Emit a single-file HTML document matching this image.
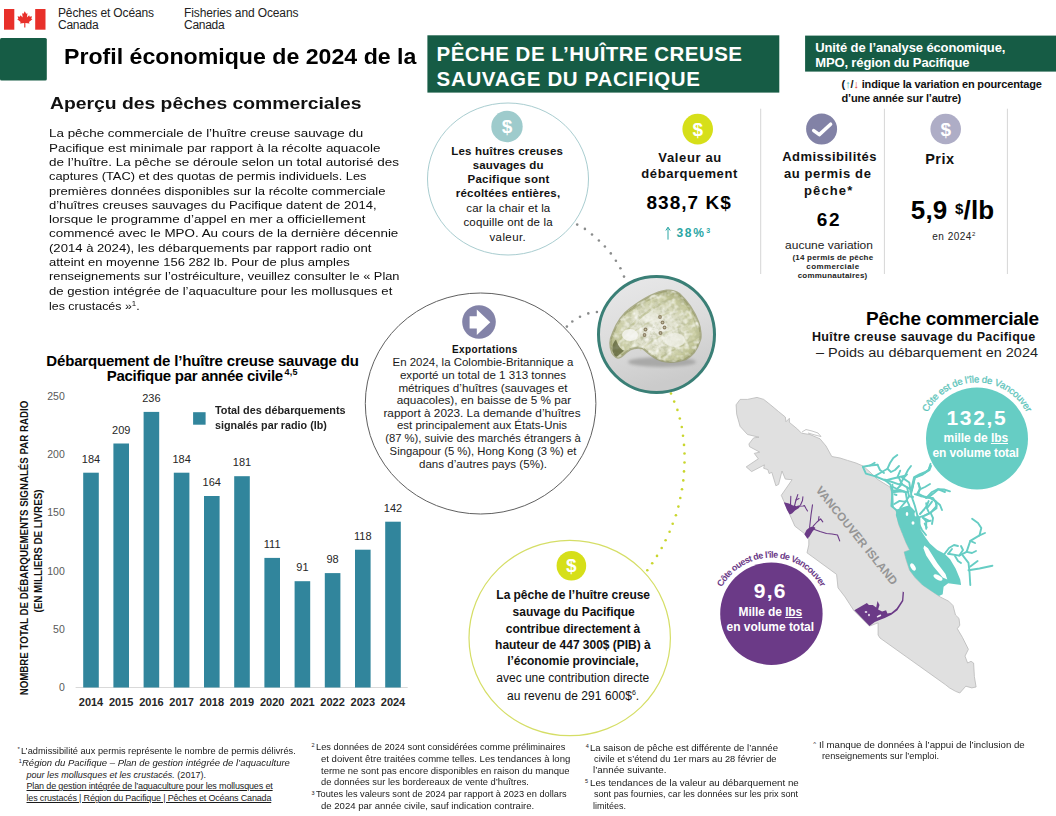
<!DOCTYPE html>
<html><head><meta charset="utf-8"><style>
html,body{margin:0;padding:0;background:#fff;}
body{width:1056px;height:816px;position:relative;overflow:hidden;font-family:"Liberation Sans",sans-serif;}
.t{position:absolute;white-space:nowrap;line-height:1;}
.a{position:absolute;}
</style></head><body>
<svg class="a" style="left:0;top:0" width="1056" height="816" viewBox="0 0 1056 816"><rect x="4" y="9" width="10.3" height="20.7" fill="#e8302a"/>
<rect x="35.2" y="9" width="10.3" height="20.7" fill="#e8302a"/>
<g transform="translate(15.3,10.4) scale(0.19)"><path d="M50,5 L57,18 L64,15 L61,38 L73,26 L76,33 L88,31 L84,44 L90,47 L72,61 L75,69 L53,66 L53,90 L47,90 L47,66 L25,69 L28,61 L10,47 L16,44 L12,31 L24,33 L27,26 L39,38 L36,15 L43,18 Z" fill="#e8302a"/></g>
<rect x="0" y="38" width="46.8" height="42.5" rx="1.5" fill="#165c45"/>
<rect x="427.4" y="35.3" width="351.9" height="57.3" fill="#165c45"/>
<rect x="805.1" y="35.6" width="251" height="36" fill="#165c45"/>
<line x1="75.6" y1="687.5" x2="407.7" y2="687.5" stroke="#d9d9d9" stroke-width="1"/>
<rect x="83.2" y="472.7" width="15.6" height="214.8" fill="#31859c"/>
<rect x="113.4" y="443.5" width="15.6" height="244.0" fill="#31859c"/>
<rect x="143.6" y="411.9" width="15.6" height="275.6" fill="#31859c"/>
<rect x="173.8" y="472.7" width="15.6" height="214.8" fill="#31859c"/>
<rect x="204.0" y="496.0" width="15.6" height="191.5" fill="#31859c"/>
<rect x="234.2" y="476.2" width="15.6" height="211.3" fill="#31859c"/>
<rect x="264.4" y="557.9" width="15.6" height="129.6" fill="#31859c"/>
<rect x="294.6" y="581.2" width="15.6" height="106.3" fill="#31859c"/>
<rect x="324.8" y="573.1" width="15.6" height="114.4" fill="#31859c"/>
<rect x="355.0" y="549.7" width="15.6" height="137.8" fill="#31859c"/>
<rect x="385.2" y="521.7" width="15.6" height="165.8" fill="#31859c"/>
<rect x="193.1" y="412.2" width="12.5" height="12.5" fill="#31859c"/>
<line x1="760.7" y1="108.7" x2="760.7" y2="274" stroke="#d6d6d6" stroke-width="1"/>
<line x1="884.4" y1="108.7" x2="884.4" y2="274" stroke="#d6d6d6" stroke-width="1"/>
<line x1="1007.4" y1="108.7" x2="1007.4" y2="274" stroke="#d6d6d6" stroke-width="1"/>
<ellipse cx="508" cy="179" rx="80.5" ry="76" fill="none" stroke="#a9cdd0" stroke-width="1"/>
<ellipse cx="480.6" cy="403.5" rx="115.3" ry="110.5" fill="none" stroke="#606060" stroke-width="1"/>
<ellipse cx="569.7" cy="638" rx="100.7" ry="97.7" fill="none" stroke="#d5de66" stroke-width="1.2"/>
<circle cx="577.2" cy="224.6" r="1.3" fill="#8a8c8c"/>
<circle cx="584.9" cy="228.9" r="1.3" fill="#8a8c8c"/>
<circle cx="592" cy="234.5" r="1.3" fill="#8a8c8c"/>
<circle cx="598.9" cy="240.5" r="1.3" fill="#8a8c8c"/>
<circle cx="604.9" cy="246.5" r="1.3" fill="#8a8c8c"/>
<circle cx="610.8" cy="253.4" r="1.3" fill="#8a8c8c"/>
<circle cx="615.9" cy="260.8" r="1.3" fill="#8a8c8c"/>
<circle cx="620.4" cy="268.3" r="1.3" fill="#8a8c8c"/>
<circle cx="624" cy="276.6" r="1.3" fill="#8a8c8c"/>
<circle cx="566.9" cy="326.6" r="1.3" fill="#8a8c8c"/>
<circle cx="572.3" cy="321.5" r="1.3" fill="#8a8c8c"/>
<circle cx="580" cy="316.7" r="1.3" fill="#8a8c8c"/>
<circle cx="588.3" cy="313.4" r="1.3" fill="#8a8c8c"/>
<circle cx="596.9" cy="312" r="1.3" fill="#8a8c8c"/>
<circle cx="671" cy="393.5" r="1.3" fill="#c9d62e"/>
<circle cx="674.2" cy="401.6" r="1.3" fill="#c9d62e"/>
<circle cx="677.4" cy="409.9" r="1.3" fill="#c9d62e"/>
<circle cx="679.8" cy="418.5" r="1.3" fill="#c9d62e"/>
<circle cx="681.8" cy="427" r="1.3" fill="#c9d62e"/>
<circle cx="683" cy="435.8" r="1.3" fill="#c9d62e"/>
<circle cx="684" cy="444.9" r="1.3" fill="#c9d62e"/>
<circle cx="684.5" cy="453.5" r="1.3" fill="#c9d62e"/>
<circle cx="684.5" cy="462.5" r="1.3" fill="#c9d62e"/>
<circle cx="684" cy="471.4" r="1.3" fill="#c9d62e"/>
<circle cx="683.3" cy="480.4" r="1.3" fill="#c9d62e"/>
<circle cx="682" cy="489.2" r="1.3" fill="#c9d62e"/>
<circle cx="680.3" cy="498" r="1.3" fill="#c9d62e"/>
<circle cx="678.4" cy="506.6" r="1.3" fill="#c9d62e"/>
<circle cx="675.9" cy="515.2" r="1.3" fill="#c9d62e"/>
<circle cx="672.7" cy="523.8" r="1.3" fill="#c9d62e"/>
<circle cx="669.6" cy="531.8" r="1.3" fill="#c9d62e"/>
<circle cx="665.6" cy="540.2" r="1.3" fill="#c9d62e"/>
<circle cx="661.7" cy="548" r="1.3" fill="#c9d62e"/>
<circle cx="657" cy="555.9" r="1.3" fill="#c9d62e"/>
<circle cx="652.2" cy="563.2" r="1.3" fill="#c9d62e"/>
<circle cx="647.3" cy="570.3" r="1.3" fill="#c9d62e"/>
<path d="M668,239.6 L668,227.5 M665.8,230.5 L668,227.2 L670.2,230.5" fill="none" stroke="#2aa6a4" stroke-width="1"/>
<circle cx="507" cy="126.5" r="15.7" fill="#9ecbcc"/>
<text x="507" y="133.1" text-anchor="middle" font-family="Liberation Sans" font-weight="bold" font-size="19" fill="#fff">$</text>
<circle cx="697.7" cy="129.1" r="15.3" fill="#d6df19"/>
<text x="697.7" y="135.7" text-anchor="middle" font-family="Liberation Sans" font-weight="bold" font-size="19" fill="#fff">$</text>
<circle cx="945.7" cy="129" r="15.3" fill="#aeadc6"/>
<text x="945.7" y="135.6" text-anchor="middle" font-family="Liberation Sans" font-weight="bold" font-size="19" fill="#fff">$</text>
<circle cx="571.4" cy="565.8" r="14.8" fill="#d6df19"/>
<text x="571.4" y="572.4" text-anchor="middle" font-family="Liberation Sans" font-weight="bold" font-size="19" fill="#fff">$</text>
<circle cx="821.6" cy="129" r="15.5" fill="#8282a6"/>
<path d="M813.7,130.6 L819.3,134.6 L830.6,124.2" fill="none" stroke="#fff" stroke-width="3.5" stroke-linecap="round" stroke-linejoin="round"/>
<circle cx="479" cy="322" r="16.8" fill="#8383a8"/>
<path d="M469.6,316.2 L476.8,316.2 L476.8,309.6 L490.3,322.3 L476.8,335.0 L476.8,328.6 L469.6,328.6 Z" fill="#fff"/>
<defs>
<linearGradient id="og" x1="0" y1="0" x2="0.3" y2="1"><stop offset="0" stop-color="#e9e9ea"/><stop offset="0.55" stop-color="#dcdcdc"/><stop offset="1" stop-color="#cbcbcb"/></linearGradient>
<radialGradient id="sh" cx="0.5" cy="0.55" r="0.62"><stop offset="0" stop-color="#ecece2"/><stop offset="0.4" stop-color="#dfe0cb"/><stop offset="0.72" stop-color="#c8cb9f"/><stop offset="0.9" stop-color="#a6aa78"/><stop offset="1" stop-color="#8a8e60"/></radialGradient>
<filter id="bl" x="-0.2" y="-0.2" width="1.4" height="1.4"><feGaussianBlur stdDeviation="0.7"/></filter>
<filter id="bl2" x="-0.2" y="-0.2" width="1.4" height="1.4"><feGaussianBlur stdDeviation="1.6"/></filter>
<clipPath id="oc"><circle cx="656.5" cy="334.5" r="58"/></clipPath>
<clipPath id="shc"><path d="M612.3,352.8 C609.5,346 610,339 613,333 C617,323 623,314 630,309 C642,300 655,292 666.4,290.7 C672,290 676,291.5 679.2,293.9 C688,302 694,311 698.3,322.5 C701,330 701,338 699.9,340 C697,350 692,356 685.5,359.2 C677,362 669,362.5 661.7,360.8 C653,358 647,352 642.5,348 C637,347 633,348 629.8,349.6 C626,352 623,355 621.8,356 C619,358 616,359 612.3,352.8 Z"/></clipPath>
<filter id="tex" x="0" y="0" width="1" height="1"><feTurbulence type="fractalNoise" baseFrequency="0.22" numOctaves="3" seed="7"/><feColorMatrix type="matrix" values="0 0 0 0 0.48  0 0 0 0 0.5  0 0 0 0 0.32  2.2 0 0 0 -0.95"/></filter>
<filter id="tex2" x="0" y="0" width="1" height="1"><feTurbulence type="fractalNoise" baseFrequency="0.18" numOctaves="2" seed="11"/><feColorMatrix type="matrix" values="0 0 0 0 1  0 0 0 0 1  0 0 0 0 0.98  2.4 0 0 0 -1.05"/></filter>
</defs>
<circle cx="656.5" cy="334.5" r="58" fill="url(#og)"/>
<g clip-path="url(#oc)">
<ellipse cx="662" cy="362" rx="34" ry="5" fill="#a9a9a8" filter="url(#bl2)"/>
<path d="M612.3,352.8 C609.5,346 610,339 613,333 C617,323 623,314 630,309 C642,300 655,292 666.4,290.7 C672,290 676,291.5 679.2,293.9 C688,302 694,311 698.3,322.5 C701,330 701,338 699.9,340 C697,350 692,356 685.5,359.2 C677,362 669,362.5 661.7,360.8 C653,358 647,352 642.5,348 C637,347 633,348 629.8,349.6 C626,352 623,355 621.8,356 C619,358 616,359 612.3,352.8 Z" fill="url(#sh)" filter="url(#bl)"/>
<path d="M620,340 C632,322 650,308 672,298" fill="none" stroke="#b7bb8a" stroke-width="2.2" opacity="0.7" filter="url(#bl)"/>
<path d="M618,347 C630,333 648,320 676,310" fill="none" stroke="#c2c596" stroke-width="1.6" opacity="0.6" filter="url(#bl)"/>
<path d="M640,350 C655,338 672,328 692,322" fill="none" stroke="#c9cc9e" stroke-width="1.8" opacity="0.55" filter="url(#bl)"/>
<path d="M660,358 C672,350 684,344 696,340" fill="none" stroke="#b0b482" stroke-width="1.6" opacity="0.6" filter="url(#bl)"/>
<path d="M628,312 C640,303 655,296 668,293" fill="none" stroke="#9da16c" stroke-width="1.8" opacity="0.7" filter="url(#bl)"/>
<path d="M680,296 C688,305 694,316 697,328" fill="none" stroke="#a4a874" stroke-width="1.8" opacity="0.6" filter="url(#bl)"/>
<rect x="605" y="285" width="100" height="80" filter="url(#tex)" clip-path="url(#shc)" opacity="0.9"/>
<path d="M612.3,352.8 C609.5,346 610,339 613,333 C617,323 623,314 630,309 C642,300 655,292 666.4,290.7 C672,290 676,291.5 679.2,293.9 C688,302 694,311 698.3,322.5 C701,330 701,338 699.9,340 C697,350 692,356 685.5,359.2 C677,362 669,362.5 661.7,360.8 C653,358 647,352 642.5,348 C637,347 633,348 629.8,349.6 C626,352 623,355 621.8,356 C619,358 616,359 612.3,352.8 Z" fill="none" stroke="#979a6c" stroke-width="2.2" opacity="0.75" filter="url(#bl)"/>
<rect x="605" y="285" width="100" height="80" filter="url(#tex2)" clip-path="url(#shc)" opacity="0.75"/>
<ellipse cx="630" cy="335" rx="8" ry="6" fill="#f6f6f2" opacity="0.85" filter="url(#bl)"/>
<ellipse cx="675" cy="340" rx="10" ry="7" fill="#f3f3ec" opacity="0.7" filter="url(#bl)"/>
<ellipse cx="652" cy="318" rx="9" ry="5" fill="#f0f0e6" opacity="0.6" filter="url(#bl)"/>
<circle cx="660" cy="317" r="1.9" fill="#7d6f50" opacity="0.85"/>
<circle cx="660" cy="317" r="0.8" fill="#c8c2a8"/>
<circle cx="662.5" cy="322.5" r="1.9" fill="#7d6f50" opacity="0.85"/>
<circle cx="662.5" cy="322.5" r="0.8" fill="#c8c2a8"/>
<circle cx="664.5" cy="327.5" r="1.9" fill="#7d6f50" opacity="0.85"/>
<circle cx="664.5" cy="327.5" r="0.8" fill="#c8c2a8"/>
<circle cx="660.5" cy="333" r="1.9" fill="#7d6f50" opacity="0.85"/>
<circle cx="660.5" cy="333" r="0.8" fill="#c8c2a8"/>
<circle cx="645.5" cy="329.5" r="1.9" fill="#7d6f50" opacity="0.85"/>
<circle cx="645.5" cy="329.5" r="0.8" fill="#c8c2a8"/>
<circle cx="644.5" cy="335" r="1.9" fill="#7d6f50" opacity="0.85"/>
<circle cx="644.5" cy="335" r="0.8" fill="#c8c2a8"/>
<path d="M611.5,350 C611,344 613,340 616,337 C618,343 621,349 626,351 C622,354 619,357 616.5,358.5 C614,357 612,354 611.5,350 Z" fill="#5d6238" opacity="0.75" filter="url(#bl)" transform="translate(616 350) scale(0.8) translate(-616 -350)"/>
</g>
<circle cx="656.5" cy="334.5" r="58" fill="none" stroke="#3a7f76" stroke-width="3"/>
</svg>
<svg class="a" style="left:0;top:0" width="1056" height="816" viewBox="0 0 1056 816"><polygon points="736.1,404.8 740.1,399.4 747.5,399.4 757.0,397.4 763.7,399.4 770.5,404.8 778.6,411.6 785.3,417.0 786.0,421.7 789.4,418.3 789.4,422.4 797.5,429.1 801.5,433.2 810.0,434.5 820.0,438.8 826.0,446.0 831.8,456.5 840.0,458.0 847.5,460.4 856.0,463.0 863.0,466.0 870.0,472.0 877.0,479.0 885.0,484.0 890.0,487.0 892.5,495.0 891.5,505.0 896.0,510.0 898.6,524.3 902.3,533.5 906.0,542.7 909.6,550.1 904.1,551.9 906.0,559.3 909.6,570.3 915.1,577.6 922.5,585.0 933.5,592.4 940.1,596.9 948.7,601.2 953.0,605.5 955.5,615.0 959.0,618.4 959.8,625.2 957.3,628.7 962.4,637.3 968.4,649.3 965.0,656.1 967.6,663.0 971.0,661.3 973.6,663.0 974.4,676.7 976.1,687.0 971.8,687.9 965.8,686.2 959.8,693.0 955.5,691.3 949.5,687.9 945.2,684.5 880.0,638.0 878.1,635.0 878.1,622.8 869.5,626.1 853.6,610.2 845.0,596.9 838.0,587.8 836.6,574.4 807.0,552.8 808.8,545.0 808.8,539.4 804.4,533.5 794.9,526.2 789.7,514.4 784.6,502.6 783.3,500.1 781.3,495.3 792.1,479.7 785.3,479.1 782.0,471.0 778.6,484.4 775.9,485.8 771.8,472.3 769.1,473.6 767.8,469.6 763.7,468.3 764.4,464.9 751.6,471.6 746.2,466.9 758.3,458.8 754.3,453.4 759.7,452.1 749.6,446.7 748.9,444.0 753.6,437.9 759.0,437.2 747.5,434.5 740.1,426.4 736.7,414.3" fill="#e0e0e0" stroke="#b9b9b9" stroke-width="0.8" stroke-linejoin="round"/>
<polyline points="802,432 806,429.5 812,431 818,433 821,436.5 815,435 808,433" fill="none" stroke="#b9b9b9" stroke-width="0.8"/>
<polygon points="896.8,509.6 901.9,507.5 909.3,505.3 915.0,511.0 920.3,517.8 920.7,529.9 925.3,537.2 929.9,543.6 937.2,550.1 944.6,553.8 950.1,559.3 955.6,568.5 960.2,579.5 961.1,585.0 948.2,583.2 943.6,586.8 942.7,594.2 939.0,596.0 933.5,592.4 922.5,585.0 915.1,577.6 909.6,570.3 906.0,559.3 904.1,551.9 909.6,550.1 906.0,542.7 902.3,533.5 898.6,524.3 895.8,515.1" fill="#66cdc4"/>
<polygon points="924.3,545.5 928.0,548.2 937.2,562.9 945.5,574.0 947.3,579.5 942.7,577.6 933.5,566.6 926.2,555.6 923.4,548.2" fill="#fff"/>
<ellipse cx="913" cy="567" rx="2.2" ry="4" fill="#fff" transform="rotate(-30 913 567)"/>
<ellipse cx="938" cy="577.5" rx="5" ry="2.2" fill="#fff" transform="rotate(30 938 577.5)"/>
<ellipse cx="907" cy="514" rx="1.3" ry="2" fill="#fff"/>
<ellipse cx="913" cy="523" rx="1.5" ry="1.8" fill="#fff"/>
<ellipse cx="916" cy="514" rx="1.5" ry="2.5" fill="#fff"/>
<polyline points="862.9,466.8 865.9,473.6 874.7,476.1 885.5,480.5 890.4,484.4 892.4,492.3 891.4,506.0 896.3,509.9 900.2,518.7" fill="none" stroke="#66cdc4" stroke-width="1.9" stroke-linejoin="round" stroke-linecap="round"/>
<polyline points="862.9,466.8 870.0,465.5 877.6,464.8" fill="none" stroke="#66cdc4" stroke-width="1.9" stroke-linejoin="round" stroke-linecap="round"/>
<polyline points="870.0,465.5 874.7,462.8" fill="none" stroke="#66cdc4" stroke-width="1.9" stroke-linejoin="round" stroke-linecap="round"/>
<polyline points="874.7,476.1 881.0,472.5 887.5,468.7 890.0,463.0 893.3,457.9 897.3,455.0" fill="none" stroke="#66cdc4" stroke-width="1.9" stroke-linejoin="round" stroke-linecap="round"/>
<polyline points="885.5,480.5 891.0,479.0 897.3,477.5 900.2,470.7" fill="none" stroke="#66cdc4" stroke-width="1.9" stroke-linejoin="round" stroke-linecap="round"/>
<polyline points="897.3,477.5 905.1,475.6" fill="none" stroke="#66cdc4" stroke-width="1.9" stroke-linejoin="round" stroke-linecap="round"/>
<polyline points="899.0,478.0 902.2,484.4 907.1,487.4 909.0,496.2 906.1,501.1 900.2,508.0" fill="none" stroke="#66cdc4" stroke-width="1.9" stroke-linejoin="round" stroke-linecap="round"/>
<polyline points="912.9,486.4 914.9,477.5 922.7,474.6 928.6,469.7 930.6,463.8" fill="none" stroke="#66cdc4" stroke-width="1.9" stroke-linejoin="round" stroke-linecap="round"/>
<polyline points="912.9,486.4 911.0,494.0 912.9,500.1 914.9,506.0 917.0,514.0 918.8,523.6" fill="none" stroke="#66cdc4" stroke-width="1.9" stroke-linejoin="round" stroke-linecap="round"/>
<polyline points="914.9,494.2 920.8,496.2 928.6,497.2 934.0,493.0 938.4,489.3 944.0,489.5 950.0,491.3" fill="none" stroke="#66cdc4" stroke-width="1.9" stroke-linejoin="round" stroke-linecap="round"/>
<polyline points="928.6,497.2 935.5,501.1 936.5,506.0 930.6,512.8 923.7,515.8" fill="none" stroke="#66cdc4" stroke-width="1.9" stroke-linejoin="round" stroke-linecap="round"/>
<polyline points="918.8,483.4 919.8,489.3 916.9,494.2" fill="none" stroke="#66cdc4" stroke-width="1.9" stroke-linejoin="round" stroke-linecap="round"/>
<polyline points="928.6,501.1 926.7,506.0 923.7,509.9" fill="none" stroke="#66cdc4" stroke-width="1.9" stroke-linejoin="round" stroke-linecap="round"/>
<polyline points="922.7,517.7 928.6,520.7" fill="none" stroke="#66cdc4" stroke-width="1.9" stroke-linejoin="round" stroke-linecap="round"/>
<polyline points="924.7,523.6 926.7,527.5" fill="none" stroke="#66cdc4" stroke-width="1.9" stroke-linejoin="round" stroke-linecap="round"/>
<polyline points="892.4,492.3 901.2,491.3 907.1,492.3" fill="none" stroke="#66cdc4" stroke-width="1.9" stroke-linejoin="round" stroke-linecap="round"/>
<polyline points="894.3,504.0 899.2,501.1" fill="none" stroke="#66cdc4" stroke-width="1.9" stroke-linejoin="round" stroke-linecap="round"/>
<polyline points="972.1,518.8 978.0,523.0 981.3,528.0 979.5,535.4 970.3,540.9 966.6,551.9 959.3,555.6 948.2,553.8" fill="none" stroke="#66cdc4" stroke-width="1.9" stroke-linejoin="round" stroke-linecap="round"/>
<polyline points="962.9,555.6 968.5,562.9 969.5,572.0 970.3,585.0" fill="none" stroke="#66cdc4" stroke-width="1.9" stroke-linejoin="round" stroke-linecap="round"/>
<polyline points="968.5,570.3 979.5,568.5 992.4,565.7" fill="none" stroke="#66cdc4" stroke-width="1.9" stroke-linejoin="round" stroke-linecap="round"/>
<polyline points="970.3,566.6 977.6,561.1" fill="none" stroke="#66cdc4" stroke-width="1.9" stroke-linejoin="round" stroke-linecap="round"/>
<polyline points="955.0,556.0 958.0,561.0 961.0,563.0" fill="none" stroke="#66cdc4" stroke-width="1.9" stroke-linejoin="round" stroke-linecap="round"/>
<polyline points="944.6,553.8 949.0,548.0 954.0,545.0 958.0,546.0" fill="none" stroke="#66cdc4" stroke-width="1.9" stroke-linejoin="round" stroke-linecap="round"/>
<polyline points="877.6,464.8 880.0,470.0 884.0,473.0" fill="none" stroke="#66cdc4" stroke-width="1.9" stroke-linejoin="round" stroke-linecap="round"/>
<polyline points="887.5,468.7 891.0,472.0 895.0,470.0 899.0,466.0" fill="none" stroke="#66cdc4" stroke-width="1.9" stroke-linejoin="round" stroke-linecap="round"/>
<polyline points="905.1,475.6 908.0,470.0 911.0,466.0" fill="none" stroke="#66cdc4" stroke-width="1.9" stroke-linejoin="round" stroke-linecap="round"/>
<polyline points="902.0,484.0 897.0,489.0 893.0,487.0" fill="none" stroke="#66cdc4" stroke-width="1.9" stroke-linejoin="round" stroke-linecap="round"/>
<polyline points="907.0,487.4 912.0,490.0" fill="none" stroke="#66cdc4" stroke-width="1.9" stroke-linejoin="round" stroke-linecap="round"/>
<polyline points="909.0,496.2 913.0,497.0" fill="none" stroke="#66cdc4" stroke-width="1.9" stroke-linejoin="round" stroke-linecap="round"/>
<polyline points="919.8,489.3 925.0,487.0 930.0,484.0" fill="none" stroke="#66cdc4" stroke-width="1.9" stroke-linejoin="round" stroke-linecap="round"/>
<polyline points="935.5,501.1 940.0,505.0 942.0,510.0" fill="none" stroke="#66cdc4" stroke-width="1.9" stroke-linejoin="round" stroke-linecap="round"/>
<polyline points="923.7,509.9 920.0,514.0" fill="none" stroke="#66cdc4" stroke-width="1.9" stroke-linejoin="round" stroke-linecap="round"/>
<polyline points="918.8,523.6 922.0,530.0 926.0,535.0" fill="none" stroke="#66cdc4" stroke-width="1.9" stroke-linejoin="round" stroke-linecap="round"/>
<polyline points="930.6,512.8 933.0,518.0 932.0,524.0" fill="none" stroke="#66cdc4" stroke-width="1.9" stroke-linejoin="round" stroke-linecap="round"/>
<polyline points="948.2,553.8 952.0,549.0" fill="none" stroke="#66cdc4" stroke-width="1.9" stroke-linejoin="round" stroke-linecap="round"/>
<polyline points="959.3,555.6 963.0,550.0 961.0,546.0" fill="none" stroke="#66cdc4" stroke-width="1.9" stroke-linejoin="round" stroke-linecap="round"/>
<polyline points="966.6,551.9 972.0,553.0 976.0,551.0" fill="none" stroke="#66cdc4" stroke-width="1.9" stroke-linejoin="round" stroke-linecap="round"/>
<polyline points="970.3,540.9 975.0,543.0" fill="none" stroke="#66cdc4" stroke-width="1.9" stroke-linejoin="round" stroke-linecap="round"/>
<polyline points="979.5,535.4 985.0,533.0" fill="none" stroke="#66cdc4" stroke-width="1.9" stroke-linejoin="round" stroke-linecap="round"/>
<polyline points="885.0,479.6 892.0,482.0 899.7,484.7 904.1,477.4 907.0,474.4" fill="none" stroke="#66cdc4" stroke-width="1.9" stroke-linejoin="round" stroke-linecap="round"/>
<polyline points="892.4,484.7 892.4,495.0 892.8,506.8" fill="none" stroke="#66cdc4" stroke-width="1.9" stroke-linejoin="round" stroke-linecap="round"/>
<polyline points="901.9,477.4 909.3,482.5 910.7,492.0" fill="none" stroke="#66cdc4" stroke-width="1.9" stroke-linejoin="round" stroke-linecap="round"/>
<polyline points="892.4,490.6 899.7,489.9 905.6,492.0 907.1,500.9 909.3,505.3" fill="none" stroke="#66cdc4" stroke-width="1.9" stroke-linejoin="round" stroke-linecap="round"/>
<polyline points="894.6,494.3 896.5,495.0" fill="none" stroke="#66cdc4" stroke-width="1.9" stroke-linejoin="round" stroke-linecap="round"/>
<polyline points="899.7,500.9 904.0,501.6 907.1,500.9" fill="none" stroke="#66cdc4" stroke-width="1.9" stroke-linejoin="round" stroke-linecap="round"/>
<polyline points="918.1,493.5 926.2,497.9 932.8,497.9 936.5,503.1 936.5,508.2 930.6,512.6 924.7,515.6 919.6,517.1" fill="none" stroke="#66cdc4" stroke-width="1.9" stroke-linejoin="round" stroke-linecap="round"/>
<polyline points="926.2,497.9 932.0,492.0 937.9,489.1 945.0,492.0" fill="none" stroke="#66cdc4" stroke-width="1.9" stroke-linejoin="round" stroke-linecap="round"/>
<polyline points="926.2,503.1 926.9,508.2 929.0,512.6" fill="none" stroke="#66cdc4" stroke-width="1.9" stroke-linejoin="round" stroke-linecap="round"/>
<polyline points="932.0,501.6 927.6,507.5" fill="none" stroke="#66cdc4" stroke-width="1.9" stroke-linejoin="round" stroke-linecap="round"/>
<polyline points="918.1,483.2 920.3,488.4 918.1,493.5" fill="none" stroke="#66cdc4" stroke-width="1.9" stroke-linejoin="round" stroke-linecap="round"/>
<polyline points="923.2,517.8 926.2,521.5 926.2,528.8" fill="none" stroke="#66cdc4" stroke-width="1.9" stroke-linejoin="round" stroke-linecap="round"/>
<polyline points="926.2,521.5 930.6,520.7" fill="none" stroke="#66cdc4" stroke-width="1.9" stroke-linejoin="round" stroke-linecap="round"/>
<polyline points="910.7,492.0 912.2,486.9 914.4,477.4 920.0,474.5 925.0,472.5 929.1,470.0 931.0,465.0" fill="none" stroke="#66cdc4" stroke-width="2.6" stroke-linejoin="round"/>
<polygon points="783.8,502.3 789.0,503.5 793.0,505.5 797.0,506.3 800.5,505.0 799.0,508.0 795.0,510.5 792.0,513.5 789.7,514.4 787.0,510.0" fill="#6b3a87"/>
<polygon points="804.4,534.3 806.5,530.0 809.5,527.5 813.2,526.2 815.5,528.0 812.5,531.5 809.5,536.5 807.4,538.7" fill="#6b3a87"/>
<polygon points="854.3,610.2 866.9,602.9 868.9,604.9 872.8,604.9 876.2,607.5 877.5,600.9 879.5,604.9 878.1,609.5 882.1,611.5 886.1,610.2 887.4,613.5 891.4,612.8 896.7,608.2 902.0,600.2 902.7,591.6 904.0,592.3 903.3,600.9 897.4,610.2 891.4,614.8 884.8,618.1 880.8,619.5 874.8,622.1 869.5,626.1" fill="#6b3a87"/>
<ellipse cx="866" cy="612" rx="1.3" ry="1" fill="#fff" opacity="0.8"/><ellipse cx="869" cy="615" rx="1" ry="1.3" fill="#fff" opacity="0.8"/><ellipse cx="879" cy="616" rx="2.5" ry="0.9" fill="#fff" transform="rotate(-25 879 616)" opacity="0.9"/>
<polyline points="790.5,505.0 790.8,496.4" fill="none" stroke="#6b3a87" stroke-width="1.1" stroke-linejoin="round" stroke-linecap="round"/>
<polyline points="794.5,506.0 796.0,500.0 797.8,494.6" fill="none" stroke="#6b3a87" stroke-width="1.1" stroke-linejoin="round" stroke-linecap="round"/>
<polyline points="797.5,506.3 803.0,506.0 804.4,505.6 806.0,508.5 807.5,511.0" fill="none" stroke="#6b3a87" stroke-width="1.1" stroke-linejoin="round" stroke-linecap="round"/>
<polyline points="800.5,505.0 802.5,500.5 802.9,496.8" fill="none" stroke="#6b3a87" stroke-width="1.1" stroke-linejoin="round" stroke-linecap="round"/>
<polyline points="796.0,500.0 799.0,498.5" fill="none" stroke="#6b3a87" stroke-width="1.1" stroke-linejoin="round" stroke-linecap="round"/>
<polyline points="809.6,527.5 811.0,515.0 812.5,504.9" fill="none" stroke="#6b3a87" stroke-width="1.1" stroke-linejoin="round" stroke-linecap="round"/>
<polyline points="813.2,526.2 817.0,522.0 820.6,518.8 822.8,521.8" fill="none" stroke="#6b3a87" stroke-width="1.1" stroke-linejoin="round" stroke-linecap="round"/>
<polyline points="818.5,520.5 819.0,516.5" fill="none" stroke="#6b3a87" stroke-width="1.1" stroke-linejoin="round" stroke-linecap="round"/>
<polyline points="814.5,529.5 820.0,531.5 826.5,533.5 832.0,534.0 837.5,535.0 839.7,540.9" fill="none" stroke="#6b3a87" stroke-width="1.1" stroke-linejoin="round" stroke-linecap="round"/>
<text x="857.2" y="535.3" transform="rotate(51.1 857.2 535.3)" text-anchor="middle" dominant-baseline="central" font-family="Liberation Sans" font-weight="bold" font-size="11.6" fill="#959595" letter-spacing="0.2">VANCOUVER ISLAND</text>
<circle cx="977" cy="438.5" r="51" fill="#66cdc4"/>
<circle cx="771.4" cy="613.7" r="51.2" fill="#6b3a87"/>
<defs><path id="arcT" d="M921.21,433.62 A56,56 0 0 1 1032.79,433.62" fill="none"/><path id="arcP" d="M715.61,608.82 A56,56 0 0 1 827.19,608.82" fill="none"/></defs>
<text font-family="Liberation Sans" font-size="9.6" fill="#5cc4ba" stroke="#5cc4ba" stroke-width="0.25"><textPath href="#arcT" startOffset="50%" text-anchor="middle" textLength="122" lengthAdjust="spacing">Côte est de l’île de Vancouver</textPath></text>
<text font-family="Liberation Sans" font-size="9" font-weight="bold" fill="#6b3a87"><textPath href="#arcP" startOffset="50%" text-anchor="middle" textLength="121" lengthAdjust="spacing">Côte ouest de l’île de Vancouver</textPath></text>
</svg>
<div class="t" id="h1" style="left:58.0px;top:7.0px;font-size:12px;color:#222;letter-spacing:-0.138px;">Pêches et Océans</div>
<div class="t" id="h2" style="left:58.0px;top:19.0px;font-size:12px;color:#222;letter-spacing:-0.269px;">Canada</div>
<div class="t" id="h3" style="left:184.0px;top:7.0px;font-size:12px;color:#222;letter-spacing:-0.118px;">Fisheries and Oceans</div>
<div class="t" id="h4" style="left:184.0px;top:19.0px;font-size:12px;color:#222;letter-spacing:-0.269px;">Canada</div>
<div class="t" id="ti" style="left:64.4px;top:46.0px;font-size:22px;color:#000;font-weight:bold;transform: scaleX(1.0519);transform-origin:0 50%;">Profil économique de 2024 de la</div>
<div class="t" id="g1" style="left:436.6px;top:43.8px;font-size:20.5px;color:#fff;font-weight:bold;letter-spacing:0.451px;">PÊCHE DE L’HUÎTRE CREUSE</div>
<div class="t" id="g2" style="left:436.6px;top:68.6px;font-size:20.5px;color:#fff;font-weight:bold;letter-spacing:0.654px;">SAUVAGE DU PACIFIQUE</div>
<div class="t" id="u1" style="left:815.2px;top:41.0px;font-size:13px;color:#fff;font-weight:bold;letter-spacing:-0.118px;">Unité de l’analyse économique,</div>
<div class="t" id="u2" style="left:815.2px;top:56.3px;font-size:13px;color:#fff;font-weight:bold;letter-spacing:-0.133px;">MPO, région du Pacifique</div>
<div class="t" id="n1" style="left:841.6px;top:79.4px;font-size:11px;color:#111;font-weight:bold;letter-spacing:-0.146px;">(<span style="color:#3bb0b0">↑</span>/<span style="color:#e0453a">↓</span> indique la variation en pourcentage</div>
<div class="t" id="n2" style="left:841.6px;top:92.5px;font-size:11px;color:#111;font-weight:bold;letter-spacing:-0.191px;">d’une année sur l’autre)</div>
<div class="t" id="a0" style="left:49.8px;top:95.1px;font-size:17px;color:#111;font-weight:bold;transform: scaleX(1.1364);transform-origin:0 50%;">Aperçu des pêches commerciales</div>
<div class="t" id="p0" style="left:48.5px;top:128.3px;font-size:11px;color:#0d0d0d;transform: scaleX(1.2180);transform-origin:0 50%;">La pêche commerciale de l’huître creuse sauvage du</div>
<div class="t" id="p1" style="left:48.5px;top:142.6px;font-size:11px;color:#0d0d0d;transform: scaleX(1.2207);transform-origin:0 50%;">Pacifique est minimale par rapport à la récolte aquacole</div>
<div class="t" id="p2" style="left:48.5px;top:156.9px;font-size:11px;color:#0d0d0d;transform: scaleX(1.2259);transform-origin:0 50%;">de l’huître. La pêche se déroule selon un total autorisé des</div>
<div class="t" id="p3" style="left:48.5px;top:171.2px;font-size:11px;color:#0d0d0d;transform: scaleX(1.1652);transform-origin:0 50%;">captures (TAC) et des quotas de permis individuels. Les</div>
<div class="t" id="p4" style="left:48.5px;top:185.5px;font-size:11px;color:#0d0d0d;transform: scaleX(1.1861);transform-origin:0 50%;">premières données disponibles sur la récolte commerciale</div>
<div class="t" id="p5" style="left:48.5px;top:199.8px;font-size:11px;color:#0d0d0d;transform: scaleX(1.1822);transform-origin:0 50%;">d’huîtres creuses sauvages du Pacifique datent de 2014,</div>
<div class="t" id="p6" style="left:48.5px;top:214.1px;font-size:11px;color:#0d0d0d;transform: scaleX(1.2218);transform-origin:0 50%;">lorsque le programme d’appel en mer a officiellement</div>
<div class="t" id="p7" style="left:48.5px;top:228.4px;font-size:11px;color:#0d0d0d;transform: scaleX(1.2181);transform-origin:0 50%;">commencé avec le MPO. Au cours de la dernière décennie</div>
<div class="t" id="p8" style="left:48.5px;top:242.7px;font-size:11px;color:#0d0d0d;transform: scaleX(1.1904);transform-origin:0 50%;">(2014 à 2024), les débarquements par rapport radio ont</div>
<div class="t" id="p9" style="left:48.5px;top:257.0px;font-size:11px;color:#0d0d0d;transform: scaleX(1.1820);transform-origin:0 50%;">atteint en moyenne 156 282 lb. Pour de plus amples</div>
<div class="t" id="p10" style="left:48.5px;top:271.3px;font-size:11px;color:#0d0d0d;transform: scaleX(1.1651);transform-origin:0 50%;">renseignements sur l’ostréiculture, veuillez consulter le « Plan</div>
<div class="t" id="p11" style="left:48.5px;top:285.6px;font-size:11px;color:#0d0d0d;transform: scaleX(1.1944);transform-origin:0 50%;">de gestion intégrée de l’aquaculture pour les mollusques et</div>
<div class="t" id="p12" style="left:48.5px;top:299.9px;font-size:11px;color:#0d0d0d;transform: scaleX(1.1289);transform-origin:0 50%;">les crustacés »<span style="font-size:7px;vertical-align:4px">1</span>.</div>
<div class="t" id="ct1" style="left:202.5px;top:352.6px;font-size:15px;color:#000;font-weight:bold;letter-spacing:-0.186px;transform:translateX(-50%);transform-origin:50% 50%;">Débarquement de l’huître creuse sauvage du</div>
<div class="t" id="ct2" style="left:194.8px;top:367.6px;font-size:15px;color:#000;font-weight:bold;letter-spacing:-0.281px;transform:translateX(-50%);transform-origin:50% 50%;">Pacifique par année civile</div>
<div class="t" id="ct3" style="left:284.5px;top:367.9px;font-size:9px;color:#000;font-weight:bold;letter-spacing:0.242px;">4,5</div>
<div class="t" id="lg1" style="left:215.0px;top:405.1px;font-size:11px;color:#222;font-weight:bold;transform: scaleX(0.9861);transform-origin:0 50%;">Total des débarquements</div>
<div class="t" id="lg2" style="left:215.0px;top:419.5px;font-size:11px;color:#222;font-weight:bold;transform: scaleX(0.9789);transform-origin:0 50%;">signalés par radio (lb)</div>
<div class="t" id="yt0" style="left:64.8px;top:682.4px;font-size:10.5px;color:#595959;transform:translateX(-100%);transform-origin:100% 50%;">0</div>
<div class="t" id="yt50" style="left:64.8px;top:624.0px;font-size:10.5px;color:#595959;transform:translateX(-100%);transform-origin:100% 50%;">50</div>
<div class="t" id="yt100" style="left:64.8px;top:565.7px;font-size:10.5px;color:#595959;transform:translateX(-100%);transform-origin:100% 50%;">100</div>
<div class="t" id="yt150" style="left:64.8px;top:507.3px;font-size:10.5px;color:#595959;transform:translateX(-100%);transform-origin:100% 50%;">150</div>
<div class="t" id="yt200" style="left:64.8px;top:448.9px;font-size:10.5px;color:#595959;transform:translateX(-100%);transform-origin:100% 50%;">200</div>
<div class="t" id="yt250" style="left:64.8px;top:390.5px;font-size:10.5px;color:#595959;transform:translateX(-100%);transform-origin:100% 50%;">250</div>
<div class="t" id="bv0" style="left:91.0px;top:453.8px;font-size:11px;color:#262626;transform:translateX(-50%);transform-origin:50% 50%;">184</div>
<div class="t" id="yr0" style="left:91.0px;top:696.7px;font-size:11px;color:#262626;font-weight:bold;transform:translateX(-50%);transform-origin:50% 50%;">2014</div>
<div class="t" id="bv1" style="left:121.2px;top:424.6px;font-size:11px;color:#262626;transform:translateX(-50%);transform-origin:50% 50%;">209</div>
<div class="t" id="yr1" style="left:121.2px;top:696.7px;font-size:11px;color:#262626;font-weight:bold;transform:translateX(-50%);transform-origin:50% 50%;">2015</div>
<div class="t" id="bv2" style="left:151.4px;top:393.0px;font-size:11px;color:#262626;transform:translateX(-50%);transform-origin:50% 50%;">236</div>
<div class="t" id="yr2" style="left:151.4px;top:696.7px;font-size:11px;color:#262626;font-weight:bold;transform:translateX(-50%);transform-origin:50% 50%;">2016</div>
<div class="t" id="bv3" style="left:181.6px;top:453.8px;font-size:11px;color:#262626;transform:translateX(-50%);transform-origin:50% 50%;">184</div>
<div class="t" id="yr3" style="left:181.6px;top:696.7px;font-size:11px;color:#262626;font-weight:bold;transform:translateX(-50%);transform-origin:50% 50%;">2017</div>
<div class="t" id="bv4" style="left:211.8px;top:477.1px;font-size:11px;color:#262626;transform:translateX(-50%);transform-origin:50% 50%;">164</div>
<div class="t" id="yr4" style="left:211.8px;top:696.7px;font-size:11px;color:#262626;font-weight:bold;transform:translateX(-50%);transform-origin:50% 50%;">2018</div>
<div class="t" id="bv5" style="left:242.0px;top:457.3px;font-size:11px;color:#262626;transform:translateX(-50%);transform-origin:50% 50%;">181</div>
<div class="t" id="yr5" style="left:242.0px;top:696.7px;font-size:11px;color:#262626;font-weight:bold;transform:translateX(-50%);transform-origin:50% 50%;">2019</div>
<div class="t" id="bv6" style="left:272.2px;top:539.0px;font-size:11px;color:#262626;transform:translateX(-50%);transform-origin:50% 50%;">111</div>
<div class="t" id="yr6" style="left:272.2px;top:696.7px;font-size:11px;color:#262626;font-weight:bold;transform:translateX(-50%);transform-origin:50% 50%;">2020</div>
<div class="t" id="bv7" style="left:302.4px;top:562.3px;font-size:11px;color:#262626;transform:translateX(-50%);transform-origin:50% 50%;">91</div>
<div class="t" id="yr7" style="left:302.4px;top:696.7px;font-size:11px;color:#262626;font-weight:bold;transform:translateX(-50%);transform-origin:50% 50%;">2021</div>
<div class="t" id="bv8" style="left:332.6px;top:554.2px;font-size:11px;color:#262626;transform:translateX(-50%);transform-origin:50% 50%;">98</div>
<div class="t" id="yr8" style="left:332.6px;top:696.7px;font-size:11px;color:#262626;font-weight:bold;transform:translateX(-50%);transform-origin:50% 50%;">2022</div>
<div class="t" id="bv9" style="left:362.8px;top:530.8px;font-size:11px;color:#262626;transform:translateX(-50%);transform-origin:50% 50%;">118</div>
<div class="t" id="yr9" style="left:362.8px;top:696.7px;font-size:11px;color:#262626;font-weight:bold;transform:translateX(-50%);transform-origin:50% 50%;">2023</div>
<div class="t" id="bv10" style="left:393.0px;top:502.8px;font-size:11px;color:#262626;transform:translateX(-50%);transform-origin:50% 50%;">142</div>
<div class="t" id="yr10" style="left:393.0px;top:696.7px;font-size:11px;color:#262626;font-weight:bold;transform:translateX(-50%);transform-origin:50% 50%;">2024</div>
<div class="t rot" id="yax1" style="left:24.3px;top:547.5px;font-size:11px;color:#111;font-weight:bold;transform:translate(-50%,-50%) rotate(-90deg) scaleX(0.8837);">NOMBRE TOTAL DE DÉBARQUEMENTS SIGNALÉS PAR RADIO</div>
<div class="t rot" id="yax2" style="left:37.8px;top:551.3px;font-size:11px;color:#111;font-weight:bold;transform:translate(-50%,-50%) rotate(-90deg) scaleX(0.8898);">(EN MILLIERS DE LIVRES)</div>
<div class="t" id="c1_0" style="left:507.2px;top:146.2px;font-size:11.5px;color:#111;font-weight:bold;letter-spacing:0.204px;transform:translateX(-50%);transform-origin:50% 50%;">Les huîtres creuses</div>
<div class="t" id="c1_1" style="left:508.2px;top:159.9px;font-size:11.5px;color:#111;font-weight:bold;letter-spacing:0.093px;transform:translateX(-50%);transform-origin:50% 50%;">sauvages du</div>
<div class="t" id="c1_2" style="left:508.5px;top:174.2px;font-size:11.5px;color:#111;font-weight:bold;letter-spacing:0.245px;transform:translateX(-50%);transform-origin:50% 50%;">Pacifique sont</div>
<div class="t" id="c1_3" style="left:508.1px;top:188.3px;font-size:11.5px;color:#111;font-weight:bold;letter-spacing:0.182px;transform:translateX(-50%);transform-origin:50% 50%;">récoltées entières,</div>
<div class="t" id="c1_4" style="left:508.4px;top:202.5px;font-size:11.5px;color:#111;letter-spacing:0.160px;transform:translateX(-50%);transform-origin:50% 50%;">car la chair et la</div>
<div class="t" id="c1_5" style="left:508.1px;top:217.3px;font-size:11.5px;color:#111;letter-spacing:0.170px;transform:translateX(-50%);transform-origin:50% 50%;">coquille ont de la</div>
<div class="t" id="c1_6" style="left:507.8px;top:231.5px;font-size:11.5px;color:#111;letter-spacing:0.402px;transform:translateX(-50%);transform-origin:50% 50%;">valeur.</div>
<div class="t" id="v1" style="left:690.1px;top:150.8px;font-size:13px;color:#111;font-weight:bold;letter-spacing:0.648px;transform:translateX(-50%);transform-origin:50% 50%;">Valeur au</div>
<div class="t" id="v2" style="left:689.6px;top:166.5px;font-size:13px;color:#111;font-weight:bold;letter-spacing:0.584px;transform:translateX(-50%);transform-origin:50% 50%;">débarquement</div>
<div class="t" id="v3" style="left:689.2px;top:193.1px;font-size:19px;color:#000;font-weight:bold;letter-spacing:1.054px;transform:translateX(-50%);transform-origin:50% 50%;">838,7 K$</div>
<div class="t" id="v4" style="left:676.5px;top:226.8px;font-size:12px;color:#2aa6a4;font-weight:bold;letter-spacing:1.684px;">38%</div>
<div class="t" id="v4s" style="left:706.3px;top:226.6px;font-size:7px;color:#2aa6a4;font-weight:bold;">3</div>
<div class="t" id="ad1" style="left:829.6px;top:150.4px;font-size:13px;color:#111;font-weight:bold;letter-spacing:0.466px;transform:translateX(-50%);transform-origin:50% 50%;">Admissibilités</div>
<div class="t" id="ad2" style="left:827.7px;top:167.3px;font-size:13px;color:#111;font-weight:bold;letter-spacing:0.618px;transform:translateX(-50%);transform-origin:50% 50%;">au permis de</div>
<div class="t" id="ad3" style="left:828.7px;top:183.8px;font-size:13px;color:#111;font-weight:bold;letter-spacing:1.152px;transform:translateX(-50%);transform-origin:50% 50%;">pêche*</div>
<div class="t" id="ad4" style="left:829.0px;top:209.9px;font-size:19px;color:#000;font-weight:bold;letter-spacing:1.759px;transform:translateX(-50%);transform-origin:50% 50%;">62</div>
<div class="t" id="ad5" style="left:829.3px;top:240.0px;font-size:11px;color:#222;transform:translateX(-50%) scaleX(1.0875);transform-origin:50% 50%;">aucune variation</div>
<div class="t" id="ad6" style="left:832.9px;top:254.2px;font-size:8px;color:#222;font-weight:bold;letter-spacing:0.204px;transform:translateX(-50%);transform-origin:50% 50%;">(14 permis de pêche</div>
<div class="t" id="ad7" style="left:832.9px;top:263.1px;font-size:8px;color:#222;font-weight:bold;letter-spacing:0.388px;transform:translateX(-50%);transform-origin:50% 50%;">commerciale</div>
<div class="t" id="ad8" style="left:832.6px;top:272.0px;font-size:8px;color:#222;font-weight:bold;letter-spacing:0.208px;transform:translateX(-50%);transform-origin:50% 50%;">communautaires)</div>
<div class="t" id="pr1" style="left:939.9px;top:151.7px;font-size:14.5px;color:#111;font-weight:bold;letter-spacing:0.493px;transform:translateX(-50%);transform-origin:50% 50%;">Prix</div>
<div class="t" id="pr2" style="left:952.6px;top:196.8px;font-size:26px;color:#000;font-weight:bold;letter-spacing:0.191px;transform:translateX(-50%);transform-origin:50% 50%;">5,9 <span style="font-size:15px;vertical-align:5px">$</span>/lb</div>
<div class="t" id="pr3" style="left:954.0px;top:231.2px;font-size:10px;color:#222;letter-spacing:0.500px;transform:translateX(-50%);transform-origin:50% 50%;">en 2024<span style="font-size:6px;vertical-align:4px">2</span></div>
<div class="t" id="e0" style="left:484.9px;top:344.7px;font-size:10px;color:#111;font-weight:bold;letter-spacing:0.389px;transform:translateX(-50%);transform-origin:50% 50%;">Exportations</div>
<div class="t" id="ex0" style="left:483.3px;top:356.7px;font-size:10.5px;color:#1a1a1a;transform:translateX(-50%) scaleX(1.0912);transform-origin:50% 50%;">En 2024, la Colombie-Britannique a</div>
<div class="t" id="ex1" style="left:482.8px;top:369.9px;font-size:10.5px;color:#1a1a1a;transform:translateX(-50%) scaleX(1.1034);transform-origin:50% 50%;">exporté un total de 1 313 tonnes</div>
<div class="t" id="ex2" style="left:482.8px;top:382.6px;font-size:10.5px;color:#1a1a1a;transform:translateX(-50%) scaleX(1.1108);transform-origin:50% 50%;">métriques d’huîtres (sauvages et</div>
<div class="t" id="ex3" style="left:484.0px;top:395.1px;font-size:10.5px;color:#1a1a1a;transform:translateX(-50%) scaleX(1.1190);transform-origin:50% 50%;">aquacoles), en baisse de 5 % par</div>
<div class="t" id="ex4" style="left:482.1px;top:407.6px;font-size:10.5px;color:#1a1a1a;transform:translateX(-50%) scaleX(1.1217);transform-origin:50% 50%;">rapport à 2023. La demande d’huîtres</div>
<div class="t" id="ex5" style="left:482.4px;top:420.1px;font-size:10.5px;color:#1a1a1a;transform:translateX(-50%) scaleX(1.0869);transform-origin:50% 50%;">est principalement aux États-Unis</div>
<div class="t" id="ex6" style="left:482.8px;top:433.1px;font-size:10.5px;color:#1a1a1a;transform:translateX(-50%) scaleX(1.0708);transform-origin:50% 50%;">(87 %), suivie des marchés étrangers à</div>
<div class="t" id="ex7" style="left:482.8px;top:445.8px;font-size:10.5px;color:#1a1a1a;transform:translateX(-50%) scaleX(1.0739);transform-origin:50% 50%;">Singapour (5 %), Hong Kong (3 %) et</div>
<div class="t" id="ex8" style="left:482.8px;top:458.5px;font-size:10.5px;color:#1a1a1a;transform:translateX(-50%) scaleX(1.1020);transform-origin:50% 50%;">dans d’autres pays (5%).</div>
<div class="t" id="gd0" style="left:573.2px;top:589.4px;font-size:12px;color:#111;font-weight:bold;letter-spacing:-0.040px;transform:translateX(-50%);transform-origin:50% 50%;">La pêche de l’huître creuse</div>
<div class="t" id="gd1" style="left:573.7px;top:605.5px;font-size:12px;color:#111;font-weight:bold;letter-spacing:-0.027px;transform:translateX(-50%);transform-origin:50% 50%;">sauvage du Pacifique</div>
<div class="t" id="gd2" style="left:573.0px;top:622.5px;font-size:12px;color:#111;font-weight:bold;letter-spacing:-0.074px;transform:translateX(-50%);transform-origin:50% 50%;">contribue directement à</div>
<div class="t" id="gd3" style="left:572.9px;top:638.7px;font-size:12px;color:#111;font-weight:bold;letter-spacing:-0.018px;transform:translateX(-50%);transform-origin:50% 50%;">hauteur de 447 300$ (PIB) à</div>
<div class="t" id="gd4" style="left:572.9px;top:654.9px;font-size:12px;color:#111;font-weight:bold;letter-spacing:-0.064px;transform:translateX(-50%);transform-origin:50% 50%;">l’économie provinciale,</div>
<div class="t" id="gd5" style="left:572.8px;top:671.6px;font-size:12px;color:#111;letter-spacing:-0.019px;transform:translateX(-50%);transform-origin:50% 50%;">avec une contribution directe</div>
<div class="t" id="gd6" style="left:573.2px;top:689.1px;font-size:12px;color:#111;letter-spacing:0.063px;transform:translateX(-50%);transform-origin:50% 50%;">au revenu de 291 600$<span style="font-size:7px;vertical-align:5px">6</span>.</div>
<div class="t" id="m1" style="left:1038.8px;top:308.6px;font-size:19px;color:#000;font-weight:bold;letter-spacing:-0.278px;transform:translateX(-100%);transform-origin:100% 50%;">Pêche commerciale</div>
<div class="t" id="m2" style="left:1035.5px;top:331.0px;font-size:12.5px;color:#111;font-weight:bold;letter-spacing:0.364px;transform:translateX(-100%);transform-origin:100% 50%;">Huître creuse sauvage du Pacifique</div>
<div class="t" id="m3" style="left:1038.2px;top:346.6px;font-size:12px;color:#222;transform:translateX(-100%) scaleX(1.2055);transform-origin:100% 50%;">– Poids au débarquement en 2024</div>
<div class="t" id="tc1" style="left:976.9px;top:407.2px;font-size:21px;color:#fff;font-weight:bold;letter-spacing:1.609px;transform:translateX(-50%);transform-origin:50% 50%;">132,5</div>
<div class="t" id="tc2" style="left:975.8px;top:432.3px;font-size:12px;color:#fff;font-weight:bold;letter-spacing:-0.080px;transform:translateX(-50%);transform-origin:50% 50%;">mille de <u>lbs</u></div>
<div class="t" id="tc3" style="left:975.6px;top:447.4px;font-size:12px;color:#fff;font-weight:bold;letter-spacing:-0.108px;transform:translateX(-50%);transform-origin:50% 50%;">en volume total</div>
<div class="t" id="pc1" style="left:770.3px;top:580.3px;font-size:21px;color:#fff;font-weight:bold;letter-spacing:1.298px;transform:translateX(-50%);transform-origin:50% 50%;">9,6</div>
<div class="t" id="pc2" style="left:770.4px;top:605.5px;font-size:12px;color:#fff;font-weight:bold;letter-spacing:-0.090px;transform:translateX(-50%);transform-origin:50% 50%;">Mille de <u>lbs</u></div>
<div class="t" id="pc3" style="left:770.3px;top:620.6px;font-size:12px;color:#fff;font-weight:bold;letter-spacing:-0.030px;transform:translateX(-50%);transform-origin:50% 50%;">en volume total</div>
<div class="t" id="f1s" style="left:17.5px;top:746.4px;font-size:6px;color:#1a1a1a;">*</div>
<div class="t" id="f1" style="left:20.8px;top:746.6px;font-size:9px;color:#1a1a1a;transform: scaleX(1.0245);transform-origin:0 50%;">L’admissibilité aux permis représente le nombre de permis délivrés.</div>
<div class="t" id="f2s" style="left:18.8px;top:758.6px;font-size:5.5px;color:#1a1a1a;">1</div>
<div class="t" id="f2" style="left:21.9px;top:758.5px;font-size:9px;color:#1a1a1a;font-style:italic;transform: scaleX(1.0560);transform-origin:0 50%;">Région du Pacifique – Plan de gestion intégrée de l’aquaculture</div>
<div class="t" id="f3" style="left:26.5px;top:770.8px;font-size:9px;color:#1a1a1a;letter-spacing:0.020px;"><i>pour les mollusques et les crustacés.</i> (2017).</div>
<div class="t" id="f4" style="left:26.5px;top:782.1px;font-size:9px;color:#1a1a1a;letter-spacing:-0.149px;text-decoration:underline;">Plan de gestion intégrée de l’aquaculture pour les mollusques et</div>
<div class="t" id="f5" style="left:26.5px;top:794.3px;font-size:9px;color:#1a1a1a;letter-spacing:-0.174px;text-decoration:underline;">les crustacés | Région du Pacifique | Pêches et Océans Canada</div>
<div class="t" id="f6s" style="left:311.5px;top:743.3px;font-size:5.5px;color:#1a1a1a;">2</div>
<div class="t" id="f6" style="left:316.4px;top:743.0px;font-size:9px;color:#1a1a1a;transform: scaleX(1.0274);transform-origin:0 50%;">Les données de 2024 sont considérées comme préliminaires</div>
<div class="t" id="f7" style="left:320.7px;top:754.9px;font-size:9px;color:#1a1a1a;transform: scaleX(1.0602);transform-origin:0 50%;">et doivent être traitées comme telles. Les tendances à long</div>
<div class="t" id="f8" style="left:320.7px;top:766.9px;font-size:9px;color:#1a1a1a;transform: scaleX(1.0500);transform-origin:0 50%;">terme ne sont pas encore disponibles en raison du manque</div>
<div class="t" id="f9" style="left:320.7px;top:778.0px;font-size:9px;color:#1a1a1a;transform: scaleX(1.0362);transform-origin:0 50%;">de données sur les bordereaux de vente d’huîtres.</div>
<div class="t" id="f10s" style="left:311.5px;top:790.5px;font-size:5.5px;color:#1a1a1a;">3</div>
<div class="t" id="f10" style="left:315.9px;top:790.2px;font-size:9px;color:#1a1a1a;transform: scaleX(1.0242);transform-origin:0 50%;">Toutes les valeurs sont de 2024 par rapport à 2023 en dollars</div>
<div class="t" id="f11" style="left:320.7px;top:801.9px;font-size:9px;color:#1a1a1a;transform: scaleX(1.0626);transform-origin:0 50%;">de 2024 par année civile, sauf indication contraire.</div>
<div class="t" id="f12s" style="left:585.8px;top:744.1px;font-size:5.5px;color:#1a1a1a;">4</div>
<div class="t" id="f12" style="left:590.2px;top:743.8px;font-size:9px;color:#1a1a1a;transform: scaleX(1.0653);transform-origin:0 50%;">La saison de pêche est différente de l’année</div>
<div class="t" id="f13" style="left:594.1px;top:755.1px;font-size:9px;color:#1a1a1a;transform: scaleX(1.0305);transform-origin:0 50%;">civile et s’étend du 1er mars au 28 février de</div>
<div class="t" id="f14" style="left:593.0px;top:766.4px;font-size:9px;color:#1a1a1a;transform: scaleX(1.0864);transform-origin:0 50%;">l’année suivante.</div>
<div class="t" id="f15s" style="left:585.0px;top:779.3px;font-size:5.5px;color:#1a1a1a;">5</div>
<div class="t" id="f15" style="left:589.5px;top:779.0px;font-size:9px;color:#1a1a1a;transform: scaleX(1.0806);transform-origin:0 50%;">Les tendances de la valeur au débarquement ne</div>
<div class="t" id="f16" style="left:593.6px;top:790.4px;font-size:9px;color:#1a1a1a;transform: scaleX(1.0074);transform-origin:0 50%;">sont pas fournies, car les données sur les prix sont</div>
<div class="t" id="f17" style="left:592.5px;top:801.7px;font-size:9px;color:#1a1a1a;transform: scaleX(0.9995);transform-origin:0 50%;">limitées.</div>
<div class="t" id="f18s" style="left:813.3px;top:741.4px;font-size:6px;color:#1a1a1a;">^</div>
<div class="t" id="f18" style="left:819.3px;top:741.0px;font-size:9px;color:#1a1a1a;transform: scaleX(1.0734);transform-origin:0 50%;">Il manque de données à l’appui de l’inclusion de</div>
<div class="t" id="f19" style="left:821.6px;top:752.4px;font-size:9px;color:#1a1a1a;transform: scaleX(1.0213);transform-origin:0 50%;">renseignements sur l’emploi.</div>
</body></html>
